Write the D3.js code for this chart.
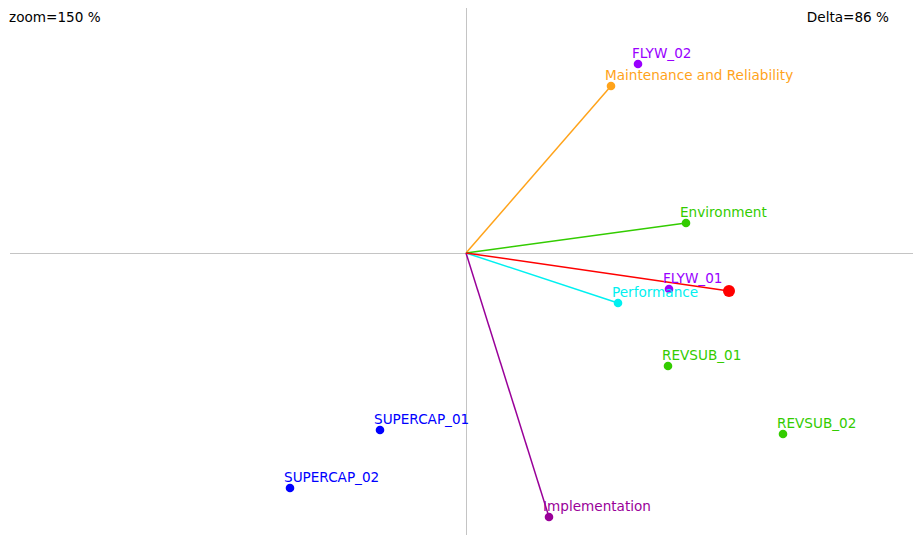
<!DOCTYPE html>
<html>
<head>
<meta charset="utf-8">
<style>
  body { margin: 0; background: #fff; }
  text { font-family: "DejaVu Sans", sans-serif; font-size: 13.6px; }
</style>
</head>
<body>
<div id="chartContainer"></div>
<script src="https://cdn.jsdelivr.net/npm/d3@7"></script>
<script>
// criteria (drawn as vectors from the origin)
var criteriaNames = ["Maintenance and Reliability", "Environment", "Performance", "Implementation"];
var criteriaX = [1.45, 2.20, 1.52, 0.83];
var criteriaY = [1.67, 0.30, -0.50, -2.64];
var criteriaColors = ["#ffa31a", "#33cc00", "#00f0f0", "#990099"];

// alternatives (points only)
var altNames = ["FLYW_02", "FLYW_01", "REVSUB_01", "REVSUB_02", "SUPERCAP_01", "SUPERCAP_02"];
var altX = [1.72, 2.03, 2.02, 3.17, -0.86, -1.76];
var altY = [1.89, -0.36, -1.13, -1.81, -1.77, -2.35];
var altColors = ["#9900ff", "#9900ff", "#33cc00", "#33cc00", "#0000ff", "#0000ff"];

// decision axis (red)
var decisionX = 2.63, decisionY = -0.38;

var zoomText = "zoom=150 %";
var deltaText = "Delta=86 %";

var width = 913, height = 535;
var svg = d3.select("#chartContainer").append("svg")
  .attr("width", width).attr("height", height);

var x = d3.scaleLinear().domain([-4.56, 4.47]).range([10, 913]);
var y = d3.scaleLinear().domain([-2.82, 2.45]).range([535, 8]);

// axes through the origin
svg.append("line").attr("x1", x(-4.56)).attr("x2", x(4.47))
  .attr("y1", y(0)).attr("y2", y(0))
  .attr("stroke", "#c4c4c4").attr("stroke-width", 1).attr("shape-rendering", "crispEdges");
svg.append("line").attr("x1", x(0)).attr("x2", x(0))
  .attr("y1", y(2.45)).attr("y2", y(-2.82))
  .attr("stroke", "#c4c4c4").attr("stroke-width", 1).attr("shape-rendering", "crispEdges");

// criteria vectors
criteriaNames.forEach(function (name, i) {
  svg.append("line")
    .attr("x1", x(0)).attr("y1", y(0))
    .attr("x2", x(criteriaX[i])).attr("y2", y(criteriaY[i]))
    .attr("stroke", criteriaColors[i]).attr("stroke-width", 1.5);
});

// red decision vector
svg.append("line")
  .attr("x1", x(0)).attr("y1", y(0))
  .attr("x2", x(decisionX)).attr("y2", y(decisionY))
  .attr("stroke", "#ff0000").attr("stroke-width", 1.5);

// points + labels for alternatives
altNames.forEach(function (name, i) {
  svg.append("circle").attr("cx", x(altX[i])).attr("cy", y(altY[i]))
    .attr("r", 4.3).attr("fill", altColors[i]);
  svg.append("text").attr("x", x(altX[i]) - 6).attr("y", y(altY[i]) - 6)
    .attr("fill", altColors[i]).text(name);
});

// points + labels for criteria
criteriaNames.forEach(function (name, i) {
  svg.append("circle").attr("cx", x(criteriaX[i])).attr("cy", y(criteriaY[i]))
    .attr("r", 4.3).attr("fill", criteriaColors[i]);
  svg.append("text").attr("x", x(criteriaX[i]) - 6).attr("y", y(criteriaY[i]) - 6)
    .attr("fill", criteriaColors[i]).text(name);
});

svg.append("circle").attr("cx", x(decisionX)).attr("cy", y(decisionY))
  .attr("r", 6).attr("fill", "#ff0000");

svg.append("text").attr("x", 9).attr("y", 22).attr("fill", "#000").text(zoomText);
svg.append("text").attr("x", 889).attr("y", 22).attr("fill", "#000")
  .attr("text-anchor", "end").text(deltaText);
</script>
</body>
</html>
